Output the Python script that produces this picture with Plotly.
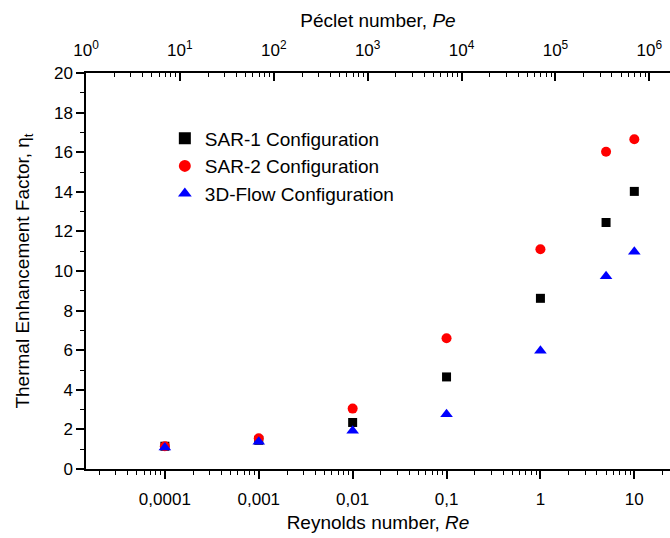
import plotly.graph_objects as go

re_vals = [0.0001, 0.001, 0.01, 0.1, 1, 5, 10]
sar1 = [1.15, 1.45, 2.35, 4.65, 8.62, 12.45, 14.02]
sar2 = [1.15, 1.55, 3.05, 6.6, 11.1, 16.02, 16.65]
flow3d = [1.08, 1.38, 1.93, 2.76, 5.97, 9.74, 10.97]

re_ticks = [0.0001, 0.001, 0.01, 0.1, 1, 10]
re_ticktext = ["0,0001", "0,001", "0,01", "0,1", "1", "10"]
pe_ticks = [1, 10, 100, 1000, 10000, 100000, 1000000]
pe_ticktext = ["10<sup>%d</sup>" % i for i in range(7)]

re_log_range = [-4.84, 1.38]
pe_offset = 4.84  # log10(Pe/Re)

FONT = "Arial, Liberation Sans, sans-serif"

fig = go.Figure()
fig.add_trace(go.Scatter(x=re_vals, y=sar1, mode="markers", name="SAR-1 Configuration",
                         marker=dict(symbol="square", size=9, color="black")))
fig.add_trace(go.Scatter(x=re_vals, y=sar2, mode="markers", name="SAR-2 Configuration",
                         marker=dict(symbol="circle", size=10, color="#ff0000")))
fig.add_trace(go.Scatter(x=re_vals, y=flow3d, mode="markers", name="3D-Flow Configuration",
                         marker=dict(symbol="triangle-up", size=11, color="#0000ff")))
fig.add_trace(go.Scatter(x=[], y=[], xaxis="x2", yaxis="y", showlegend=False, hoverinfo="skip"))

minor_re = [m * 10 ** e for e in range(-5, 2) for m in range(2, 10)]
minor_pe = [m * 10 ** e for e in range(0, 7) for m in range(2, 10)]

fig.update_layout(
    width=670, height=538,
    margin=dict(l=86, r=0, t=73, b=69),
    paper_bgcolor="white", plot_bgcolor="white",
    font=dict(family=FONT, size=17, color="black"),
    showlegend=True,
    legend=dict(x=0.135, y=0.883, xanchor="left", yanchor="top",
                font=dict(size=19, family=FONT), bgcolor="rgba(0,0,0,0)",
                itemsizing="constant", tracegroupgap=0),
    xaxis=dict(
        type="log", range=re_log_range, automargin=False,
        tickvals=re_ticks, ticktext=re_ticktext,
        ticks="outside", ticklen=8, tickwidth=1.5, tickcolor="black",
        ticklabelstandoff=6,
        showline=True, linecolor="black", linewidth=1.5,
        showgrid=False, zeroline=False,
        minor=dict(tickvals=minor_re, ticks="outside", ticklen=4, tickwidth=1.2,
                   tickcolor="black", showgrid=False),
        tickfont=dict(size=17),
        title=dict(text="Reynolds number, <i>Re</i>", font=dict(size=19), standoff=8),
    ),
    xaxis2=dict(
        type="log", overlaying="x", side="top", anchor="y", automargin=False,
        range=[re_log_range[0] + pe_offset, re_log_range[1] + pe_offset],
        tickvals=pe_ticks, ticktext=pe_ticktext,
        ticks="inside", ticklen=8, tickwidth=1.5, tickcolor="black",
        ticklabelstandoff=8,
        showline=True, linecolor="black", linewidth=1.5,
        showgrid=False, zeroline=False,
        minor=dict(tickvals=minor_pe, ticks="inside", ticklen=4, tickwidth=1.2,
                   tickcolor="black", showgrid=False),
        tickfont=dict(size=17),
        title=dict(text="Péclet number, <i>Pe</i>", font=dict(size=19), standoff=6),
    ),
    yaxis=dict(
        range=[0, 20], tickvals=list(range(0, 21, 2)), automargin=False,
        ticks="outside", ticklen=8, tickwidth=1.5, tickcolor="black",
        showline=True, linecolor="black", linewidth=1.5,
        showgrid=False, zeroline=False,
        minor=dict(dtick=1, ticks="outside", ticklen=4, tickwidth=1.2,
                   tickcolor="black", showgrid=False),
        tickfont=dict(size=17),
        title=dict(text="Thermal Enhancement Factor, η<sub>t</sub>", font=dict(size=19), standoff=19),
    ),
)

fig.write_html("out.html", post_script="document.body.style.margin='0';",
               config={"displayModeBar": False})
